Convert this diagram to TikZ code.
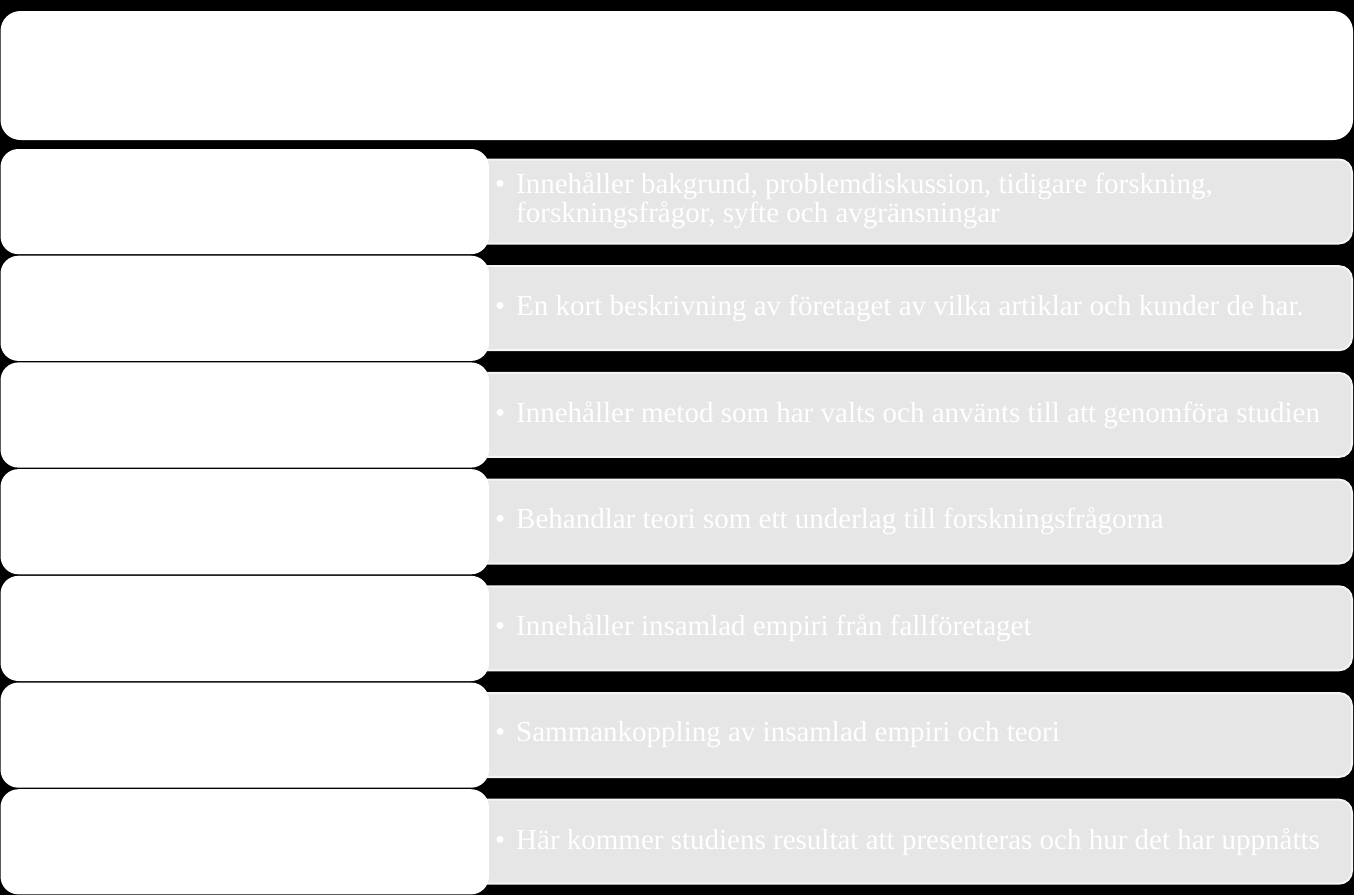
\documentclass[tikz,border=0pt]{standalone}
\usepackage{fontspec}
\setmainfont{Liberation Serif}
\definecolor{graybox}{RGB}{230,230,230}
\definecolor{grayedge}{RGB}{245,245,245}
\tikzset{
  leftbox/.style={fill=white, rounded corners=18pt},
  rightbox/.style={draw=grayedge, line width=2pt, fill=graybox, rounded corners=13pt},
  topbox/.style={fill=white, rounded corners=20pt},
  itemtext/.style={anchor=west, text=white, inner sep=0pt, align=left,
    font=\fontsize{29}{29.5}\selectfont},
}
\newcommand{\bul}{\llap{•\hspace{11pt}}}
\begin{document}
\begin{tikzpicture}[x=1pt,y=-1pt]
  \fill[black] (0,0) rectangle (1354,895);
  \useasboundingbox (0,0) rectangle (1354,895);
  \path[topbox] (0.5,11) rectangle (1353,140);
  \node[inner sep=0pt] (top) at (677,75) {};
  \foreach \i in {0,...,6} {
    \pgfmathsetmacro{\t}{149+\i*106.7}
    \pgfmathsetmacro{\c}{\t+52.5}
    \path[rightbox] (470,\c-42) rectangle (1352,\c+42);
    \path[leftbox] (0.5,\t) rectangle (489,\t+105.2);
  }
  \node[itemtext] (t1) at (516,200.5) {\bul Innehåller bakgrund, problemdiskussion, tidigare forskning,\\forskningsfrågor, syfte och avgränsningar};
  \node[itemtext] (t2) at (516,308.2) {\bul En kort beskrivning av företaget av vilka artiklar och kunder de har.};
  \node[itemtext] (t3) at (516,414.9) {\bul Innehåller metod som har valts och använts till att genomföra studien};
  \node[itemtext] (t4) at (516,521.6) {\bul Behandlar teori som ett underlag till forskningsfrågorna};
  \node[itemtext] (t5) at (516,628.3) {\bul Innehåller insamlad empiri från fallföretaget};
  \node[itemtext] (t6) at (516,735.0) {\bul Sammankoppling av insamlad empiri och teori};
  \node[itemtext] (t7) at (516,841.7) {\bul Här kommer studiens resultat att presenteras och hur det har uppnåtts};
\end{tikzpicture}
\end{document}
